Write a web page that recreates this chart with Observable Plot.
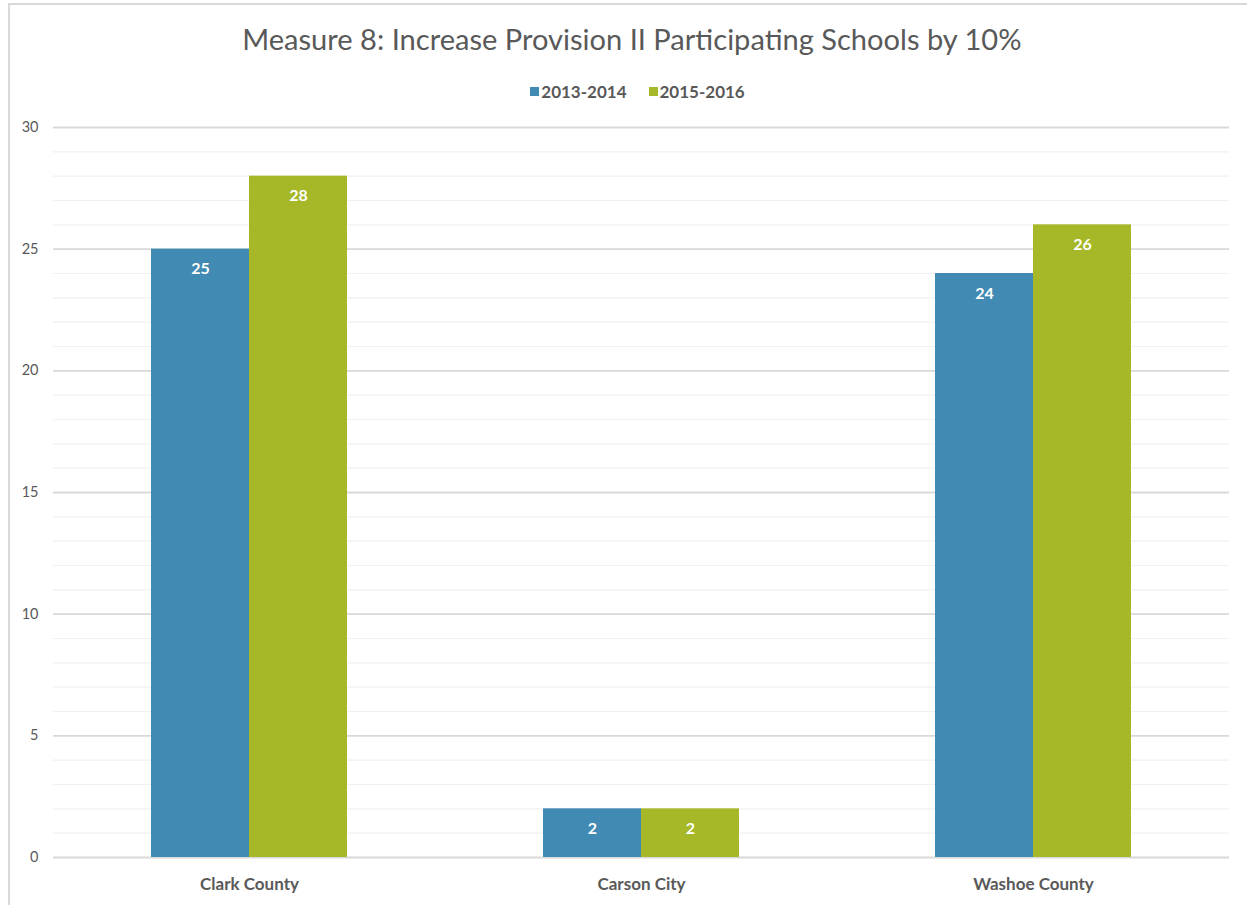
<!DOCTYPE html>
<html>
<head>
<meta charset="utf-8">
<script src="https://cdn.jsdelivr.net/npm/d3@7"></script>
<script src="https://cdn.jsdelivr.net/npm/@observablehq/plot@0.6"></script>
<style>
  html, body { margin: 0; padding: 0; background: #fff; }
  #wrap { position: relative; width: 1247px; height: 905px; overflow: hidden; background: #fff; font-family: Lato, "Open Sans", sans-serif; color: #595959; }
  #frame { position: absolute; left: 8px; top: 3px; width: 1250px; height: 920px; border-left: 2px solid #d9d9d9; border-top: 2px solid #d9d9d9; }
  #title { position: absolute; left: 8px; top: 24px; width: 1247px; text-align: center; font-size: 29px; line-height: 1; white-space: nowrap; }
  #title span { display: inline-block; transform-origin: center; }
  #legend { position: absolute; left: 14px; top: 83px; width: 1247px; display: flex; justify-content: center; gap: 22px; font-size: 17px; font-weight: bold; line-height: 1; }
  #legend .item { display: flex; align-items: center; gap: 2px; }
  #legend .sw { width: 9px; height: 9px; display: inline-block; }
  #chart { position: absolute; left: 0; top: 100px; }
</style>
</head>
<body>
<div id="wrap">
  <div id="frame"></div>
  <div id="title"><span id="titletext"></span></div>
  <div id="legend"></div>
  <div id="chart"></div>
</div>
<script>
const titleText = "Measure 8: Increase Provision II Participating Schools by 10%";
const categories = ["Clark County", "Carson City", "Washoe County"];
const series = ["2013-2014", "2015-2016"];
const values2013_2014 = [25, 2, 24];
const values2015_2016 = [28, 2, 26];
const colors = ["#418AB3", "#A6B727"];
const majorTicks = [0, 5, 10, 15, 20, 25, 30];
const minorTicks = [1, 2, 3, 4, 6, 7, 8, 9, 11, 12, 13, 14, 16, 17, 18, 19, 21, 22, 23, 24, 26, 27, 28, 29];

// Title (scaled to match the width of the original)
const tt = document.getElementById("titletext");
tt.textContent = titleText;
const ctx = document.createElement("canvas").getContext("2d");
ctx.font = "29px Lato";
const tw = ctx.measureText(titleText).width;
tt.style.transform = `scaleX(${780 / tw})`;

// Legend
const legend = document.getElementById("legend");
series.forEach((s, i) => {
  const item = document.createElement("div");
  item.className = "item";
  const sw = document.createElement("span");
  sw.className = "sw";
  sw.style.background = colors[i];
  const lab = document.createElement("span");
  lab.textContent = s;
  item.appendChild(sw);
  item.appendChild(lab);
  legend.appendChild(item);
});

const data = categories.flatMap((c, i) => [
  {category: c, series: series[0], value: values2013_2014[i]},
  {category: c, series: series[1], value: values2015_2016[i]}
]);

const chart = Plot.plot({
  width: 1247,
  height: 805,
  marginTop: 27,
  marginBottom: 48,
  marginLeft: 52,
  marginRight: 17,
  style: {fontFamily: "Lato, sans-serif", fontSize: "14.5px", color: "#595959", background: "transparent"},
  fx: {domain: categories, padding: 0, label: null},
  x: {domain: series, paddingInner: 0, paddingOuter: 1, axis: null},
  y: {domain: [0, 30], axis: null},
  color: {domain: series, range: colors},
  marks: [
    Plot.ruleY(minorTicks, {stroke: "#f0f0f0", strokeWidth: 1.2}),
    Plot.ruleY(majorTicks, {stroke: "#d9d9d9", strokeWidth: 1.8}),
    Plot.axisY({ticks: majorTicks, tickSize: 0, tickPadding: 15, label: null, fontSize: 14.5, fill: "#595959"}),
    Plot.axisFx({anchor: "bottom", tickSize: 0, tickPadding: 20, label: null, fontSize: 17, fontWeight: "bold", fill: "#595959"}),
    Plot.barY(data, {fx: "category", x: "series", y: "value", fill: "series"}),
    Plot.text(data, {fx: "category", x: "series", y: "value", text: "value", dy: 20, fill: "white", fontWeight: "bold", fontSize: 16})
  ]
});
document.getElementById("chart").appendChild(chart);
</script>
</body>
</html>
